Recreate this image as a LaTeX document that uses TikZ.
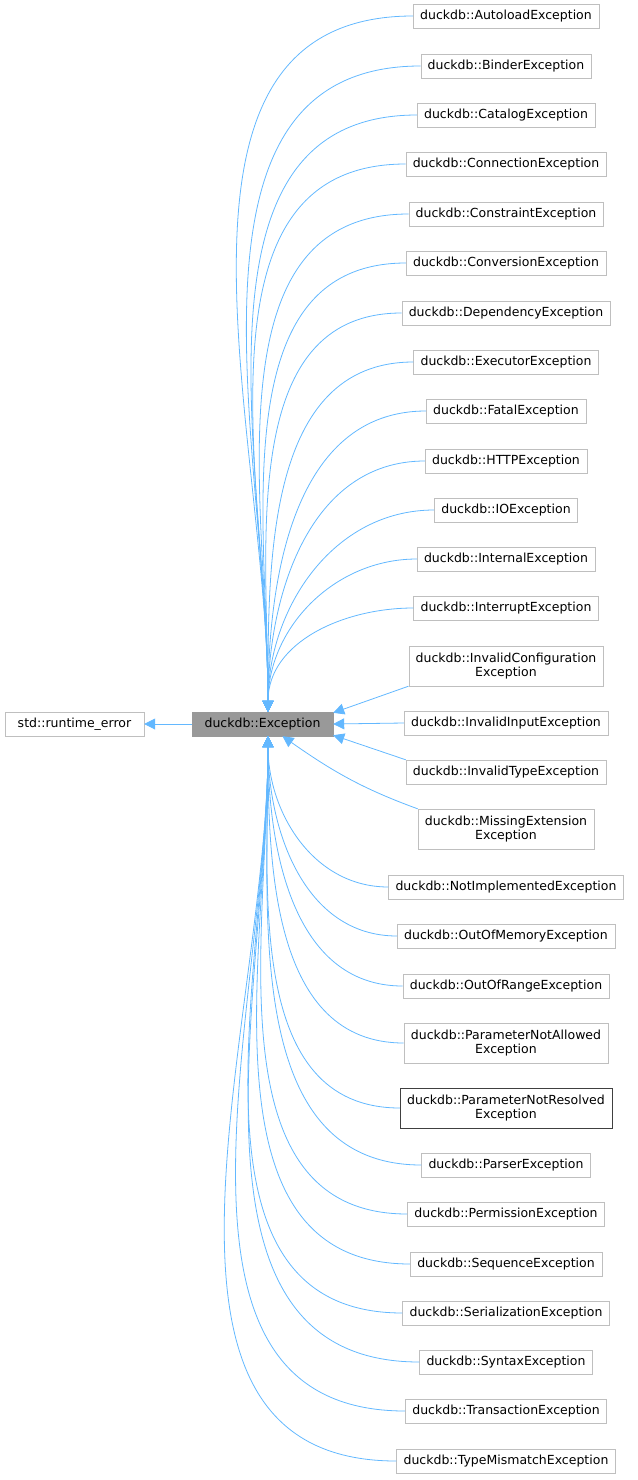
\documentclass[tikz,border=0pt]{standalone}
\usepackage{fontspec}
\setmainfont{DejaVu Sans}
\usetikzlibrary{arrows.meta, positioning}
\definecolor{edgeblue}{HTML}{63B8FF}
\definecolor{boxgrey}{HTML}{BFBFBF}
\tikzset{
	cls/.style={draw=boxgrey, fill=white, font=\fontsize{12.5}{14}\selectfont, inner xsep=7pt, inner ysep=2pt, minimum height=24pt, align=center},
	inh/.style={draw=edgeblue, line width=0.8pt, -{Triangle[length=11pt, width=11pt, fill=edgeblue]}},
}
\begin{document}
\begin{tikzpicture}[x=1pt, y=-1pt]
	\useasboundingbox (0,0) rectangle (637,1480);

	\node[cls, fill=gray!80, draw=gray!120!black, minimum width=141pt] (exc) at (262.5,724) {duckdb::Exception};
	\node[cls, minimum width=139pt] (rte) at (74.5,724) {std::runtime\_error};
	\draw[inh] (exc.west) -- (rte.east);

	% derived classes
	\foreach \nm/\txt/\y in {
		autoload/AutoloadException/16, binder/BinderException/66, catalog/CatalogException/115,
		connection/ConnectionException/164, constraint/ConstraintException/214, conversion/ConversionException/263,
		dependency/DependencyException/313, executor/ExecutorException/362, fatal/FatalException/411,
		http/HTTPException/461, io/IOException/510, internal/InternalException/559,
		interrupt/InterruptException/608}{
		\node[cls] (\nm) at (506,\y) {duckdb::\txt};
		\draw[inh] (\nm.west) to[out=180, in=90] ([xshift=5.5pt]exc.north);
	}
	\foreach \nm/\txt/\y in {
		notimpl/NotImplementedException/887, oom/OutOfMemoryException/936, oor/OutOfRangeException/986,
		parser/ParserException/1165, permission/PermissionException/1214, sequence/SequenceException/1264,
		serial/SerializationException/1313, syntax/SyntaxException/1362, transaction/TransactionException/1411,
		mismatch/TypeMismatchException/1461}{
		\node[cls] (\nm) at (506,\y) {duckdb::\txt};
		\draw[inh] (\nm.west) to[out=180, in=-90] ([xshift=5.5pt]exc.south);
	}
	\node[cls, minimum height=40pt] (invconf) at (506,666) {duckdb::InvalidConfiguration\\Exception};
	\node[cls] (invinput) at (506,723) {duckdb::InvalidInputException};
	\node[cls] (invtype) at (506,772) {duckdb::InvalidTypeException};
	\node[cls, minimum height=40pt] (missing) at (506,829) {duckdb::MissingExtension\\Exception};
	\node[cls, minimum height=40pt] (pnallowed) at (506,1043) {duckdb::ParameterNotAllowed\\Exception};
	\node[cls, minimum height=40pt, draw=black!75] (pnresolved) at (506,1108) {duckdb::ParameterNotResolved\\Exception};

	\draw[inh] (invconf.south west) -- ([yshift=-1pt]exc.north east);
	\draw[inh] (invinput.west) -- (exc.east);
	\draw[inh] (invtype.north west) -- ([yshift=1pt]exc.south east);
	\draw[inh] (missing.north west) to[out=160, in=-35] ([xshift=20pt]exc.south);
	\draw[inh] (pnallowed.west) to[out=180, in=-90] ([xshift=5.5pt]exc.south);
	\draw[inh] (pnresolved.west) to[out=180, in=-90] ([xshift=5.5pt]exc.south);
\end{tikzpicture}
\end{document}
